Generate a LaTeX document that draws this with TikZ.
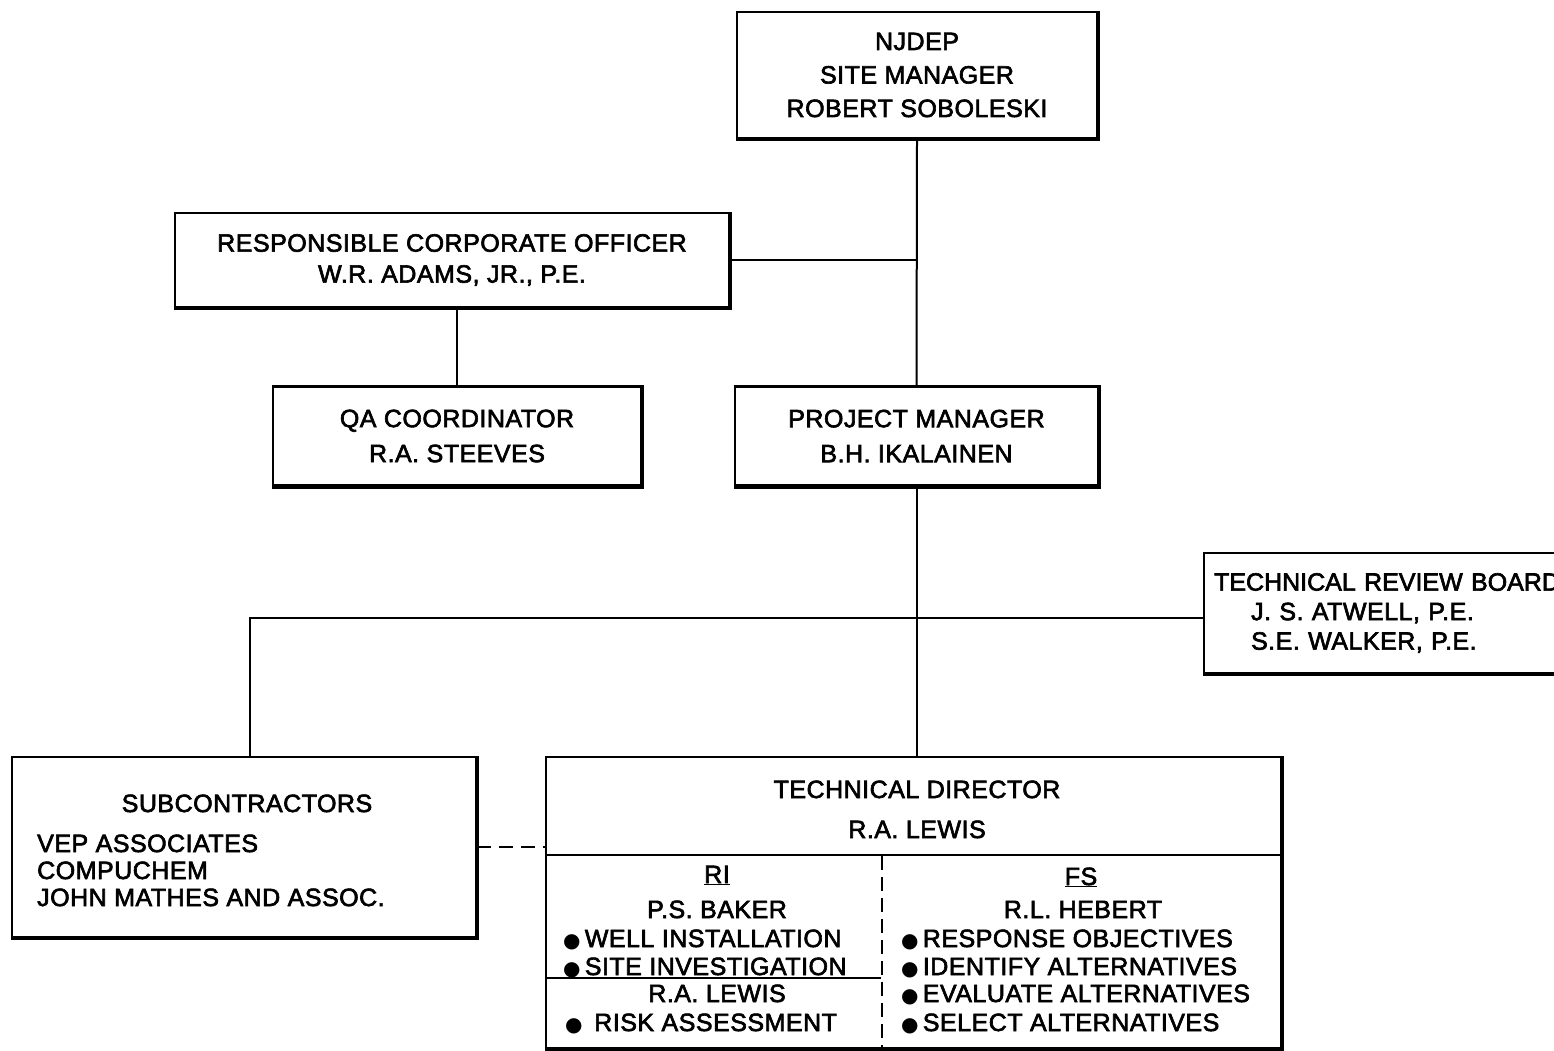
\documentclass[tikz,border=0pt]{standalone}
\usepackage{fontspec}
\setmainfont{Liberation Sans}[FakeBold=2.5, LetterSpace=2]
\newfontfamily\djv{DejaVu Sans}
\newcommand{\blt}{{\djv\fontsize{20}{20}\selectfont ●}}
\begin{document}
\begin{tikzpicture}[x=1pt,y=-1pt,
  box/.style={draw, line width=2.2pt, inner sep=0pt, align=center, font=\fontsize{25}{33}\selectfont},
  txt/.style={inner sep=0pt, font=\fontsize{25}{30}\selectfont},
  conn/.style={line width=2pt},
  dsh/.style={line width=2pt, dash pattern=on 14pt off 8pt}]
\useasboundingbox[fill=white] (0,0) rectangle (1554,1050);

% boxes
\node[box, minimum width=360pt, minimum height=126pt, font=\fontsize{25}{33.5}\selectfont] (nj) at (917,75) {NJDEP\\SITE MANAGER\\ROBERT SOBOLESKI};
\node[box, minimum width=554pt, minimum height=94pt, font=\fontsize{25}{31}\selectfont] (rco) at (452,260) {RESPONSIBLE CORPORATE OFFICER\\W.R. ADAMS, JR., P.E.};
\node[box, minimum width=368pt, minimum height=99pt, font=\fontsize{25}{35}\selectfont] (qa) at (457,436) {QA COORDINATOR\\R.A. STEEVES};
\node[box, minimum width=363pt, minimum height=99pt, font=\fontsize{25}{35}\selectfont] (pm) at (916.5,436) {PROJECT MANAGER\\B.H. IKALAINEN};
\node[box, anchor=west, text width=380pt, inner xsep=10pt, minimum height=120pt, align=left, font=\fontsize{25}{29.5}\selectfont] (trb) at (1203,613)
  {{\addfontfeature{LetterSpace=0}TECHNICAL REVIEW BOARD}\\\hspace*{37pt}J. S. ATWELL, P.E.\\\hspace*{37pt}S.E. WALKER, P.E.};
\node[box, minimum width=464pt, minimum height=180pt] (sub) at (244,847) {};
\node[box, minimum width=735pt, minimum height=291pt] (td) at (913.5,902.5) {};

% heavier bottom/right edges
\foreach \n in {nj,rco,qa,pm,sub,td}
  \draw[line width=4pt] (\n.south west) -- (\n.south east) -- (\n.north east);
\draw[line width=4pt] (trb.south west) -- (trb.south east);

% subcontractors text
\node[txt, anchor=base] (subt) at (247,812) {SUBCONTRACTORS};
\node[txt, anchor=base west] (sub1) at (37,852) {VEP ASSOCIATES};
\node[txt, anchor=base west] (sub2) at (37,879) {COMPUCHEM};
\node[txt, anchor=base west] (sub3) at (37,906) {JOHN MATHES AND ASSOC.};

% technical director internals
\node[txt, anchor=base] (tdt) at (917,798) {TECHNICAL DIRECTOR};
\node[txt, anchor=base] (tdn) at (917,838) {R.A. LEWIS};
\draw[line width=2.2pt] (td.north west) ++(0,99) -- ++(735,0);
\draw[line width=2pt, dash pattern=on 14pt off 7pt] (882,856) -- (882,1048);
\draw[line width=2.2pt] (td.west) ++(0,75.5) -- ++(336,0);

\node[txt, anchor=base] (ri) at (717,883) {\underline{RI}};
\node[txt, anchor=base] (rib) at (717,918) {P.S. BAKER};
\node[txt, anchor=base west] (ri1) at (563,947) {\blt\,WELL INSTALLATION};
\node[txt, anchor=base west] (ri2) at (563,975) {\blt\,SITE INVESTIGATION};
\node[txt, anchor=base] (ril) at (717,1002) {R.A. LEWIS};
\node[txt, anchor=base west] (ri3) at (565,1031) {\blt\ \,RISK ASSESSMENT};

\node[txt, anchor=base] (fs) at (1081,885) {\underline{FS}};
\node[txt, anchor=base] (fsh) at (1083,918) {R.L. HEBERT};
\node[txt, anchor=base west] (fs1) at (901,947) {\blt\,RESPONSE OBJECTIVES};
\node[txt, anchor=base west] (fs2) at (901,975) {\blt\,IDENTIFY ALTERNATIVES};
\node[txt, anchor=base west] (fs3) at (901,1002) {\blt\,EVALUATE ALTERNATIVES};
\node[txt, anchor=base west] (fs4) at (901,1031) {\blt\,SELECT ALTERNATIVES};

% connectors
\draw[conn] (nj.south) -- (pm.north);
\draw[conn] (rco.east) -- (rco.east -| nj.south);
\draw[conn] (rco.south -| qa.north) -- (qa.north);
\draw[conn] (pm.south) -- (pm.south |- td.north);
\coordinate (hb) at (250,618);
\draw[conn] (trb.west |- hb) -- (hb) -- (hb |- sub.north);
\draw[dsh] (sub.east) -- (sub.east -| td.west);
\end{tikzpicture}
\end{document}
